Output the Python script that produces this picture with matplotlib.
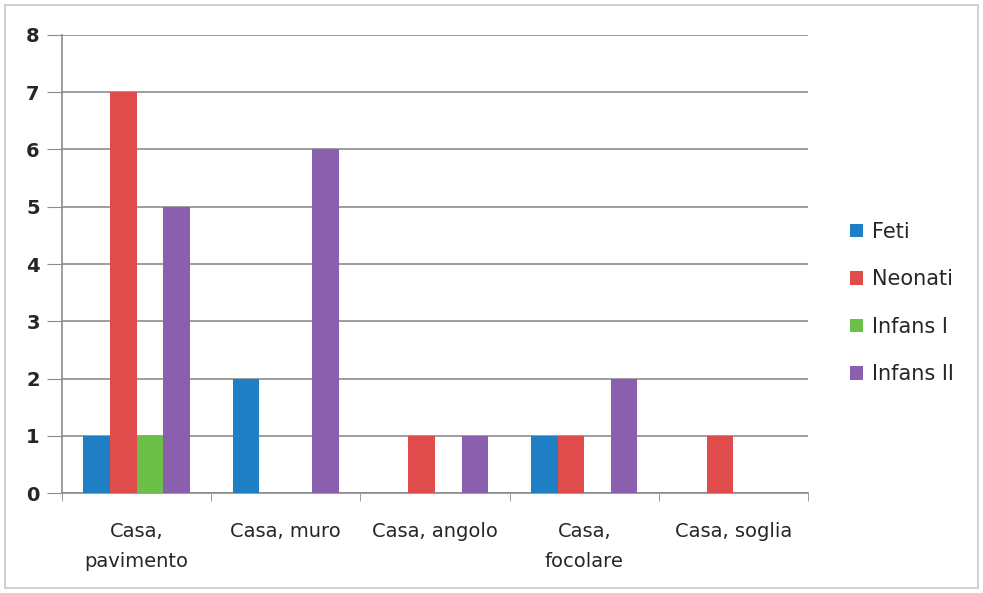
import matplotlib.pyplot as plt
import numpy as np
from matplotlib.patches import Rectangle

categories = ['Casa,\npavimento', 'Casa, muro', 'Casa, angolo', 'Casa,\nfocolare', 'Casa, soglia']
series = ['Feti', 'Neonati', 'Infans I', 'Infans II']
feti = [1, 2, 0, 1, 0]
neonati = [7, 0, 1, 1, 1]
infans_1 = [1, 0, 0, 0, 0]
infans_2 = [5, 6, 1, 2, 0]
colors = ['#1f7fc4', '#e04b4b', '#6cc04a', '#8a5fae']

fig = plt.figure(figsize=(9.83, 5.93), dpi=100)
ax = fig.add_axes([0.063, 0.1686, 0.759, 0.7724])

x = np.arange(len(categories))
w = 0.178
for i, (vals, c) in enumerate(zip([feti, neonati, infans_1, infans_2], colors)):
    ax.bar(x + (i - 1.5) * w, vals, w, color=c, label=series[i], zorder=3)

ax.set_xlim(-0.5, len(categories) - 0.5)
ax.set_ylim(0, 8)
ax.set_yticks(range(9))
ax.yaxis.grid(True, color='#8c8c8c', linewidth=1.2, zorder=0)
ax.set_xticks(x)
ax.set_xticklabels(categories, fontsize=14, color='#262626', linespacing=1.75)
ax.set_xticks(np.arange(-0.5, len(categories), 1), minor=True)
ax.tick_params(axis='x', which='major', length=0, pad=21)
ax.tick_params(axis='x', which='minor', length=6, color='#8c8c8c')
ax.tick_params(axis='y', length=11, color='#8c8c8c', labelsize=14, labelcolor='#262626', pad=5)
for lbl in ax.get_yticklabels():
    lbl.set_fontweight('semibold')
for s in ['top', 'right']:
    ax.spines[s].set_visible(False)
ax.spines['left'].set_color('#8c8c8c')
ax.spines['bottom'].set_color('#8c8c8c')
ax.spines['left'].set_linewidth(1.2)
ax.spines['bottom'].set_linewidth(1.2)

fig.legend(loc='center left', bbox_to_anchor=(0.846, 0.489), frameon=False, fontsize=15,
           handlelength=0.6, handleheight=0.6, handletextpad=0.45, labelspacing=1.32,
           labelcolor='#262626')

fig.patches.append(Rectangle((0.005, 0.008), 0.99, 0.984, transform=fig.transFigure,
                             fill=False, edgecolor='#c8c8c8', linewidth=1.2))

fig.savefig('out.png', dpi=100)
